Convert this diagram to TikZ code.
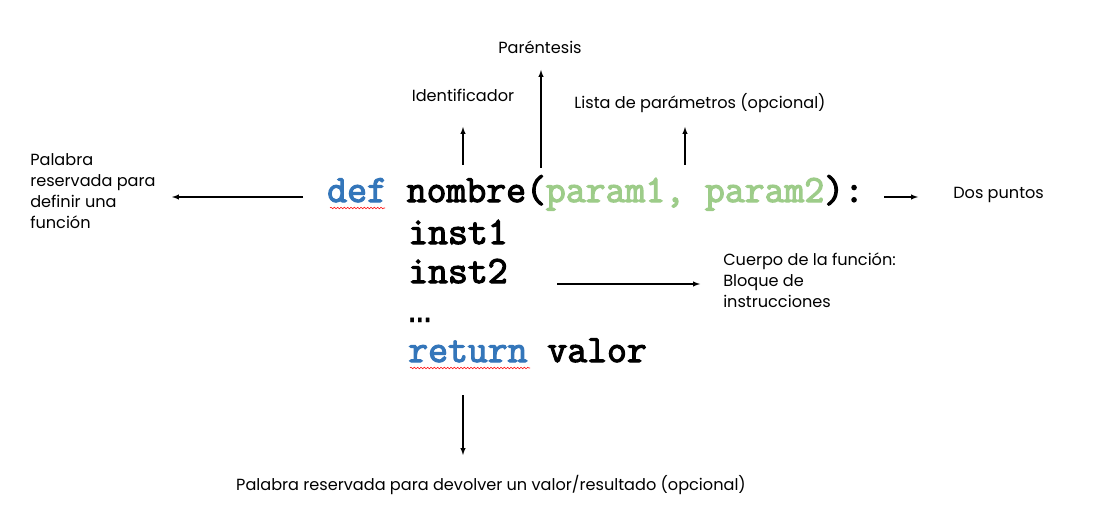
\documentclass[tikz,border=0pt]{standalone}
\usepackage{fontspec}
\setmainfont{Poppins}
\newfontfamily\codefont{Latin Modern Mono}[FakeBold=3]
\usetikzlibrary{decorations.pathmorphing}
\definecolor{kwblue}{RGB}{52,118,186}
\definecolor{parmgreen}{RGB}{157,204,137}
\begin{document}
\begin{tikzpicture}[x=0.75pt, y=-0.75pt, >=latex,
  every node/.style={inner sep=0pt, font=\fontsize{12.1}{15.75}\selectfont},
  code/.style={anchor=base west, font=\codefont\fontsize{28.95}{34}\selectfont},
  note/.style={align=left},
  arr/.style={->, line width=0.8pt},
  squig/.style={draw=red, line width=0.4pt, decorate,
    decoration={snake, amplitude=0.6pt, segment length=2.5pt}}]
  \useasboundingbox (0,0) rectangle (1101,510);
  % the function itself
  \node[code] (defln) at (327,202)
    {\textcolor{kwblue}{def} nombre(\textcolor{parmgreen}{param1, param2}):};
  \node[code] (inst1) at (408,244) {inst1};
  \node[code] (inst2) at (408,283) {inst2};
  \node[code] (dots) at (408,322) {{\fontspec{Liberation Mono}[FakeBold=1]…}};
  \node[code] (retln) at (408,362) {\textcolor{kwblue}{return} valor};
  \draw[squig] (330,208) -- (385,208);
  \draw[squig] (410,368) -- (530,368);
  % labels
  \node[note, anchor=north west] (kwdef) at (30,153)
    {Palabra\\reservada para\\definir una\\función};
  \node (ident) at (463,95) {Identificador};
  \node (paren) at (540,47) {Paréntesis};
  \node (plist) at (700,103) {Lista de parámetros (opcional)};
  \node[anchor=west] (colon) at (953,195) {Dos puntos};
  \node[note, anchor=north west] (body) at (723,253)
    {Cuerpo de la función:\\Bloque de\\instrucciones};
  \node (kwret) at (491,485)
    {Palabra reservada para devolver un valor/resultado (opcional)};
  % arrow ends
  \coordinate (defTail) at (303,197);  \coordinate (defTip) at (172,197);
  \coordinate (idTail) at (463,165);   \coordinate (idTip) at (463,127);
  \coordinate (parTail) at (541,168);  \coordinate (parTip) at (541,70);
  \coordinate (lstTail) at (685,165);  \coordinate (lstTip) at (685,127);
  \coordinate (colTail) at (884,197);  \coordinate (colTip) at (918,197);
  \coordinate (bodTail) at (557,284);  \coordinate (bodTip) at (700,284);
  \coordinate (retTail) at (463,395);  \coordinate (retTip) at (463,455);
  \foreach \a/\b in {def/def, id/id, par/par, lst/lst, col/col, bod/bod, ret/ret}
    \draw[arr] (\a Tail) -- (\b Tip);
\end{tikzpicture}
\end{document}
